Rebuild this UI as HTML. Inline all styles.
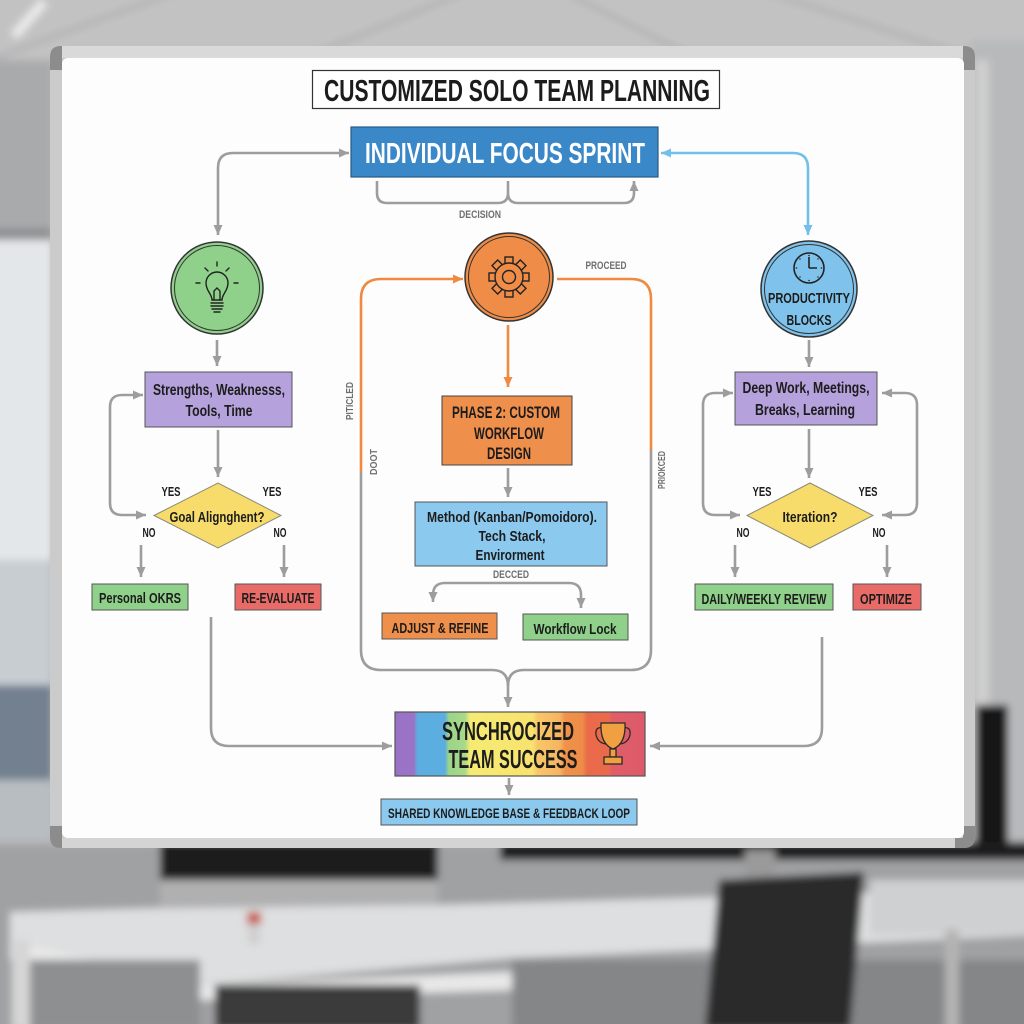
<!DOCTYPE html>
<html><head><meta charset="utf-8">
<style>
html,body{margin:0;padding:0;width:1024px;height:1024px;overflow:hidden;background:#b4b5b7}
svg{display:block}
text{font-family:"Liberation Sans Narrow","Liberation Sans",sans-serif;font-weight:bold;fill:#1c1c1c}
text.w{fill:#ffffff}
text.g{fill:#6e6e6e;font-weight:bold}
.ln{fill:none;stroke:#9d9d9d;stroke-width:2.6}
.or{fill:none;stroke:#ee8a42;stroke-width:2.6}
.bl{fill:none;stroke:#72c0ea;stroke-width:2.6}
</style></head><body>
<svg width="1024" height="1024" viewBox="0 0 1024 1024" xmlns="http://www.w3.org/2000/svg">
<defs>
<filter id="blur" x="-5%" y="-5%" width="110%" height="110%"><feGaussianBlur stdDeviation="4"/></filter>
<marker id="ag" markerWidth="11" markerHeight="11" refX="10" refY="5" orient="auto-start-reverse" markerUnits="userSpaceOnUse"><path d="M0,0.5 L10,5 L0,9.5 Z" fill="#9d9d9d"/></marker>
<marker id="ao" markerWidth="11" markerHeight="11" refX="10" refY="5" orient="auto-start-reverse" markerUnits="userSpaceOnUse"><path d="M0,0.5 L10,5 L0,9.5 Z" fill="#ee8a42"/></marker>
<marker id="ab" markerWidth="11" markerHeight="11" refX="10" refY="5" orient="auto-start-reverse" markerUnits="userSpaceOnUse"><path d="M0,0.5 L10,5 L0,9.5 Z" fill="#72c0ea"/></marker>
<linearGradient id="rb" x1="395" y1="0" x2="645" y2="0" gradientUnits="userSpaceOnUse">
<stop offset="0" stop-color="#9a72c6"/><stop offset="0.075" stop-color="#9a72c6"/>
<stop offset="0.09" stop-color="#5caee0"/><stop offset="0.2" stop-color="#5caee0"/>
<stop offset="0.215" stop-color="#9cd48a"/><stop offset="0.28" stop-color="#a8d98a"/>
<stop offset="0.3" stop-color="#f6eb72"/><stop offset="0.55" stop-color="#f7e36e"/>
<stop offset="0.57" stop-color="#f8c768"/><stop offset="0.66" stop-color="#f6b460"/>
<stop offset="0.68" stop-color="#f0924a"/><stop offset="0.75" stop-color="#ee8c48"/>
<stop offset="0.77" stop-color="#ea6a4a"/><stop offset="0.855" stop-color="#e9694d"/>
<stop offset="0.87" stop-color="#df5d68"/><stop offset="1" stop-color="#de5a6a"/>
</linearGradient>
</defs>

<!-- background -->
<g filter="url(#blur)">
<rect x="-20" y="-20" width="1064" height="1064" fill="#b3b4b6"/>
<rect x="-20" y="-20" width="1064" height="80" fill="#c2c2c3"/>
<path d="M-10,60 L180,-10 M300,60 L470,-10 M560,-10 L700,60 M760,-10 L980,60" stroke="#aeaeb0" stroke-width="4"/>
<path d="M14,36 L44,2" stroke="#ececec" stroke-width="9"/>
<rect x="-20" y="60" width="72" height="170" fill="#a9aaac"/>
<rect x="-20" y="228" width="72" height="12" fill="#8f9193"/>
<rect x="-20" y="240" width="72" height="320" fill="#e4e7e9"/>
<rect x="-20" y="560" width="72" height="125" fill="#c8cdd2"/>
<rect x="-20" y="685" width="72" height="95" fill="#72808f"/>
<rect x="-20" y="780" width="72" height="60" fill="#b8bdc2"/>
<rect x="970" y="40" width="70" height="820" fill="#b8b9bb"/>
<rect x="975" y="60" width="14" height="650" fill="#cfcfcf"/>
<rect x="976" y="705" width="32" height="138" fill="#161616"/>
<rect x="-20" y="845" width="1064" height="200" fill="#a0a1a3"/>
<rect x="160" y="842" width="278" height="40" fill="#1c1c1c"/>
<rect x="160" y="880" width="278" height="26" fill="#b0b0b1"/>
<rect x="500" y="842" width="540" height="18" fill="#1e1e1e"/>
<rect x="745" y="850" width="30" height="30" fill="#9a9a9a"/>
<polygon points="10,912 160,908 440,905 1040,888 1040,935 512,958 200,985 10,940" fill="#dedfe0"/>
<polygon points="10,940 200,985 512,972 512,990 200,1000 10,960" fill="#e8e8e8"/>
<rect x="12" y="940" width="18" height="90" fill="#d6d6d6"/>
<rect x="30" y="960" width="170" height="70" fill="#8e8f91"/>
<rect x="215" y="985" width="205" height="45" fill="#3a3a3b"/>
<rect x="512" y="960" width="530" height="70" fill="#858688"/>
<rect x="870" y="880" width="170" height="55" fill="#cfd0d1"/>
<rect x="945" y="930" width="14" height="100" fill="#b4b4b4"/>
<rect x="758" y="915" width="8" height="26" fill="#c44a3c"/>
<rect x="247" y="912" width="14" height="12" fill="#c7574a"/>
<rect x="248" y="924" width="12" height="20" fill="#cfcfcf"/>
<polygon points="719,880 864,872 850,1030 705,1030" fill="#2a2a2b"/>
</g>

<!-- board -->
<rect x="50" y="46" width="925" height="802" rx="11" fill="#cbcbcb"/>
<rect x="62" y="46" width="901" height="12" fill="#d9d9d9"/>
<path d="M50,70 L50,57 Q50,46 61,46 L62,46 L62,70 Z" fill="#8c8c8c"/>
<path d="M975,70 L975,57 Q975,46 964,46 L963,46 L963,70 Z" fill="#8c8c8c"/>
<path d="M50,826 L50,837 Q50,848 61,848 L70,848 L70,838 L62,838 L62,826 Z" fill="#8c8c8c"/>
<path d="M975,826 L975,837 Q975,848 964,848 L955,848 L955,838 L963,838 L963,826 Z" fill="#8c8c8c"/>
<rect x="62" y="838" width="893" height="10" fill="#d4d4d4"/>
<rect x="62" y="58" width="902" height="780" rx="6" fill="#fdfdfd"/>

<!-- title -->
<rect x="312.5" y="70.5" width="407" height="38" fill="#ffffff" stroke="#333" stroke-width="1.2"/>
<text x="517" y="101" font-size="31" text-anchor="middle" textLength="386" lengthAdjust="spacingAndGlyphs">CUSTOMIZED SOLO TEAM PLANNING</text>

<!-- top blue box -->
<rect x="351" y="127" width="307" height="50" fill="#3b88c9" stroke="#2a5a86" stroke-width="1.2"/>
<text class="w" x="505" y="163" font-size="29" text-anchor="middle" textLength="280" lengthAdjust="spacingAndGlyphs">INDIVIDUAL FOCUS SPRINT</text>

<!-- bracket -->
<path class="ln" d="M377,181 V193 Q377,203 387,203 H498 Q508,203 508,193 V181 M508,193 Q508,203 518,203 H624 Q634,203 634,193 V181" marker-end="url(#ag)"/>
<text class="g" x="480" y="218" font-size="11" text-anchor="middle" textLength="42" lengthAdjust="spacingAndGlyphs">DECISION</text>

<!-- top left / right connectors -->
<path class="ln" d="M218,235 V168 Q218,153 233,153 H349" marker-start="url(#ag)" marker-end="url(#ag)"/>
<path class="bl" d="M661,153 H793 Q808,153 808,168 V235" marker-start="url(#ab)" marker-end="url(#ab)"/>

<!-- LEFT COLUMN -->
<circle cx="217" cy="288" r="46" fill="#8fd18a" stroke="#333" stroke-width="1.5"/>
<circle cx="217" cy="288" r="42.5" fill="none" stroke="#333" stroke-width="1"/>
<g fill="none" stroke="#222" stroke-width="1.4" stroke-linecap="round">
<path d="M212,300 C212,294 206,291 206,283 A11,11 0 1 1 228,283 C228,291 222,294 222,300 Z"/>
<path d="M211,303 H223 M211,306 H223 M212,309 H222 M214,312 H220"/>
<path d="M214,300 V291 L217,288 L220,291 V300"/>
<path d="M217,262 V266 M205,268 L208,271 M229,268 L226,271 M196,283 H200 M234,283 H238"/>
</g>
<path class="ln" d="M217,340 V366" marker-end="url(#ag)"/>
<rect x="145" y="372" width="147" height="55" fill="#b5a1dc" stroke="#555" stroke-width="1"/>
<text x="219" y="395" font-size="15.5" text-anchor="middle" textLength="132" lengthAdjust="spacingAndGlyphs">Strengths, Weaknesss,</text>
<text x="219" y="416" font-size="15.5" text-anchor="middle" textLength="67" lengthAdjust="spacingAndGlyphs">Tools, Time</text>
<path class="ln" d="M218,430 V477" marker-end="url(#ag)"/>
<polygon points="154,515.5 218,483 281,515.5 218,548" fill="#f7dc6b" stroke="#8a8a7a" stroke-width="1"/>
<text x="217" y="522" font-size="14.5" text-anchor="middle" textLength="95" lengthAdjust="spacingAndGlyphs">Goal Alignghent?</text>
<path class="ln" d="M143,395 H122 Q110,395 110,407 V503 Q110,515 122,515 H146" marker-start="url(#ag)" marker-end="url(#ag)"/>
<text x="171" y="496" font-size="12.5" text-anchor="middle" textLength="19" lengthAdjust="spacingAndGlyphs">YES</text>
<text x="272" y="496" font-size="12.5" text-anchor="middle" textLength="19" lengthAdjust="spacingAndGlyphs">YES</text>
<text x="149" y="537" font-size="12.5" text-anchor="middle" textLength="13" lengthAdjust="spacingAndGlyphs">NO</text>
<text x="280" y="537" font-size="12.5" text-anchor="middle" textLength="13" lengthAdjust="spacingAndGlyphs">NO</text>
<path class="ln" d="M141,545 V577" marker-end="url(#ag)"/>
<path class="ln" d="M284,545 V577" marker-end="url(#ag)"/>
<rect x="92" y="584" width="96" height="26" fill="#8fd18a" stroke="#555" stroke-width="1"/>
<text x="140" y="603" font-size="14.5" text-anchor="middle" textLength="82" lengthAdjust="spacingAndGlyphs">Personal OKRS</text>
<rect x="235" y="584" width="86" height="26" fill="#e96b68" stroke="#555" stroke-width="1"/>
<text x="278" y="603" font-size="14.5" text-anchor="middle" textLength="73" lengthAdjust="spacingAndGlyphs">RE-EVALUATE</text>
<path class="ln" d="M211,617 V728 Q211,746 229,746 H392" marker-end="url(#ag)"/>

<!-- CENTER COLUMN -->
<path class="or" d="M361,472 V299 Q361,279 381,279 H463" marker-end="url(#ao)"/>
<path class="ln" d="M361,472 V650 Q361,670 381,670 H492 Q508,670 508,686 V707" marker-end="url(#ag)"/>
<path class="or" d="M557,279 H631 Q651,279 651,299 V450"/>
<path class="ln" d="M651,450 V650 Q651,670 631,670 H524 Q508,670 508,686"/>
<text class="g" x="606" y="269" font-size="11" text-anchor="middle" textLength="41" lengthAdjust="spacingAndGlyphs">PROCEED</text>
<text class="g" transform="translate(353,401) rotate(-90)" font-size="10.5" text-anchor="middle" textLength="38" lengthAdjust="spacingAndGlyphs">PITICLED</text>
<text class="g" transform="translate(377,462) rotate(-90)" font-size="10.5" text-anchor="middle" textLength="26" lengthAdjust="spacingAndGlyphs">DOOT</text>
<text class="g" transform="translate(665,470) rotate(-90)" font-size="10.5" text-anchor="middle" textLength="38" lengthAdjust="spacingAndGlyphs">PRIOKCED</text>

<circle cx="509" cy="277" r="44" fill="#ef8d48" stroke="#333" stroke-width="1.5"/>
<circle cx="509" cy="277" r="40.5" fill="none" stroke="#333" stroke-width="1"/>
<g fill="#ef8d48" stroke="#222" stroke-width="1.4">
<rect x="505" y="257" width="8" height="8" transform="rotate(0 509 277)"/>
<rect x="505" y="257" width="8" height="8" transform="rotate(45 509 277)"/>
<rect x="505" y="257" width="8" height="8" transform="rotate(90 509 277)"/>
<rect x="505" y="257" width="8" height="8" transform="rotate(135 509 277)"/>
<rect x="505" y="257" width="8" height="8" transform="rotate(180 509 277)"/>
<rect x="505" y="257" width="8" height="8" transform="rotate(225 509 277)"/>
<rect x="505" y="257" width="8" height="8" transform="rotate(270 509 277)"/>
<rect x="505" y="257" width="8" height="8" transform="rotate(315 509 277)"/>
<circle cx="509" cy="277" r="14"/>
<circle cx="509" cy="277" r="6.5"/>
</g>
<path class="or" d="M508,325 V387" marker-end="url(#ao)"/>
<rect x="442" y="396" width="130" height="69" fill="#ef8f4c" stroke="#444" stroke-width="1"/>
<text x="506" y="418" font-size="17" text-anchor="middle" textLength="108" lengthAdjust="spacingAndGlyphs">PHASE 2: CUSTOM</text>
<text x="509" y="439" font-size="17" text-anchor="middle" textLength="70" lengthAdjust="spacingAndGlyphs">WORKFLOW</text>
<text x="509" y="459" font-size="17" text-anchor="middle" textLength="44" lengthAdjust="spacingAndGlyphs">DESIGN</text>
<path class="ln" d="M508,468 V497" marker-end="url(#ag)"/>
<rect x="415" y="502" width="192" height="64" fill="#8cc9ee" stroke="#555" stroke-width="1"/>
<text x="512" y="522" font-size="15" text-anchor="middle" textLength="170" lengthAdjust="spacingAndGlyphs">Method (Kanban/Pomoidoro).</text>
<text x="512" y="541" font-size="15" text-anchor="middle" textLength="67" lengthAdjust="spacingAndGlyphs">Tech Stack,</text>
<text x="510" y="560" font-size="15" text-anchor="middle" textLength="69" lengthAdjust="spacingAndGlyphs">Envirorment</text>
<text class="g" x="511" y="578" font-size="11" text-anchor="middle" textLength="36" lengthAdjust="spacingAndGlyphs">DECCED</text>
<path class="ln" d="M507,583 H445 Q433,583 433,595 V602" marker-end="url(#ag)"/>
<path class="ln" d="M507,583 H569 Q581,583 581,595 V608" marker-end="url(#ag)"/>
<rect x="382" y="613" width="115" height="26" fill="#ef8f4c" stroke="#555" stroke-width="1"/>
<text x="440" y="633" font-size="14.5" text-anchor="middle" textLength="97" lengthAdjust="spacingAndGlyphs">ADJUST &amp; REFINE</text>
<rect x="523" y="614" width="105" height="26" fill="#8fd18a" stroke="#555" stroke-width="1"/>
<text x="575" y="634" font-size="14.5" text-anchor="middle" textLength="83" lengthAdjust="spacingAndGlyphs">Workflow Lock</text>

<!-- sync -->
<rect x="395" y="712" width="250" height="64" fill="url(#rb)" stroke="#555" stroke-width="1.2"/>
<text x="508" y="740" font-size="26" text-anchor="middle" textLength="132" lengthAdjust="spacingAndGlyphs">SYNCHROCIZED</text>
<text x="513" y="768" font-size="26" text-anchor="middle" textLength="129" lengthAdjust="spacingAndGlyphs">TEAM SUCCESS</text>
<g fill="#f0a040" stroke="#2a2a2a" stroke-width="1.3">
<path d="M602,724 Q603,727 603,728 Q595,726 596,735 Q598,743 606,744" fill="none"/>
<path d="M624,724 Q623,727 623,728 Q631,726 630,735 Q628,743 620,744" fill="none"/>
<path d="M601,723 H625 Q626,744 613,749 Q600,744 601,723 Z"/>
<rect x="610" y="749" width="6" height="8"/>
<rect x="604" y="757" width="18" height="7"/>
</g>
<path class="ln" d="M509,778 V795" marker-end="url(#ag)"/>
<rect x="381" y="799" width="256" height="26" fill="#8cc9ee" stroke="#555" stroke-width="1"/>
<text x="509" y="818" font-size="14" text-anchor="middle" textLength="242" lengthAdjust="spacingAndGlyphs">SHARED KNOWLEDGE BASE &amp; FEEDBACK LOOP</text>

<!-- RIGHT COLUMN -->
<circle cx="809" cy="289" r="48" fill="#7fc3ec" stroke="#333" stroke-width="1.5"/>
<circle cx="809" cy="289" r="44.5" fill="none" stroke="#333" stroke-width="1"/>
<circle cx="809" cy="268" r="15" fill="none" stroke="#222" stroke-width="1.6"/>
<path d="M809,268 V257 M809,268 H817" stroke="#222" stroke-width="1.6" fill="none"/>
<g fill="#222">
<circle cx="809" cy="255.5" r="0.8"/><circle cx="809" cy="280.5" r="0.8"/><circle cx="796.5" cy="268" r="0.8"/><circle cx="821.5" cy="268" r="0.8"/>
<circle cx="800" cy="259" r="0.7"/><circle cx="818" cy="259" r="0.7"/><circle cx="800" cy="277" r="0.7"/><circle cx="818" cy="277" r="0.7"/>
</g>
<text x="809" y="303" font-size="14.5" text-anchor="middle" textLength="82" lengthAdjust="spacingAndGlyphs">PRODUCTIVITY</text>
<text x="809" y="325" font-size="14.5" text-anchor="middle" textLength="45" lengthAdjust="spacingAndGlyphs">BLOCKS</text>
<path class="ln" d="M809,340 V367" marker-end="url(#ag)"/>
<rect x="735" y="372" width="142" height="53" fill="#b5a1dc" stroke="#555" stroke-width="1"/>
<text x="806" y="393" font-size="15.5" text-anchor="middle" textLength="127" lengthAdjust="spacingAndGlyphs">Deep Work, Meetings,</text>
<text x="805" y="415" font-size="15.5" text-anchor="middle" textLength="100" lengthAdjust="spacingAndGlyphs">Breaks, Learning</text>
<path class="ln" d="M809,429 V478" marker-end="url(#ag)"/>
<polygon points="747,515.5 810,483 873,515.5 810,548" fill="#f7dc6b" stroke="#8a8a7a" stroke-width="1"/>
<text x="810" y="522" font-size="14.5" text-anchor="middle" textLength="55" lengthAdjust="spacingAndGlyphs">Iteration?</text>
<path class="ln" d="M733,393 H715 Q703,393 703,405 V503 Q703,515 715,515 H740" marker-start="url(#ag)" marker-end="url(#ag)"/>
<path class="ln" d="M882,393 H905 Q917,393 917,405 V503 Q917,515 905,515 H882" marker-start="url(#ag)" marker-end="url(#ag)"/>
<text x="762" y="496" font-size="12.5" text-anchor="middle" textLength="19" lengthAdjust="spacingAndGlyphs">YES</text>
<text x="868" y="496" font-size="12.5" text-anchor="middle" textLength="19" lengthAdjust="spacingAndGlyphs">YES</text>
<text x="743" y="537" font-size="12.5" text-anchor="middle" textLength="13" lengthAdjust="spacingAndGlyphs">NO</text>
<text x="879" y="537" font-size="12.5" text-anchor="middle" textLength="13" lengthAdjust="spacingAndGlyphs">NO</text>
<path class="ln" d="M735,545 V577" marker-end="url(#ag)"/>
<path class="ln" d="M887,545 V577" marker-end="url(#ag)"/>
<rect x="695" y="584" width="138" height="26" fill="#8fd18a" stroke="#555" stroke-width="1"/>
<text x="764" y="604" font-size="14.5" text-anchor="middle" textLength="125" lengthAdjust="spacingAndGlyphs">DAILY/WEEKLY REVIEW</text>
<rect x="853" y="584" width="68" height="26" fill="#e96b68" stroke="#555" stroke-width="1"/>
<text x="886" y="604" font-size="14.5" text-anchor="middle" textLength="52" lengthAdjust="spacingAndGlyphs">OPTIMIZE</text>
<path class="ln" d="M822,637 V728 Q822,746 804,746 H650" marker-end="url(#ag)"/>
</svg>
</body></html>
